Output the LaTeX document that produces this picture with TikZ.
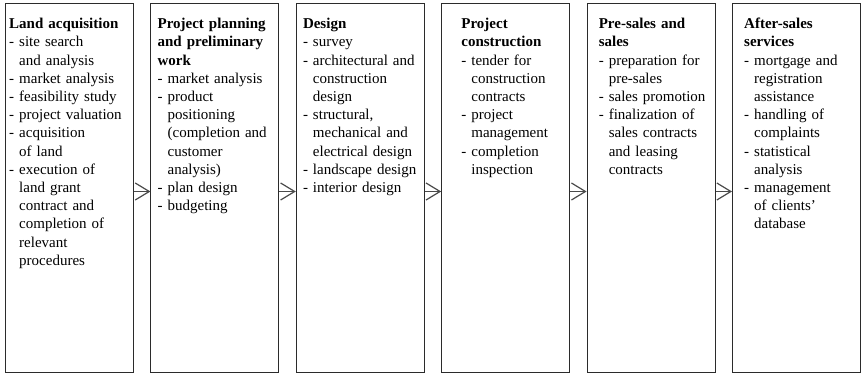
\documentclass[tikz,border=0pt]{standalone}
\usepackage{fontspec}
\setmainfont{Liberation Serif}
\usepackage{tikz}
\usetikzlibrary{arrows.meta, positioning}
\definecolor{boxdraw}{HTML}{2B2B2B}
\definecolor{arrdraw}{HTML}{4A4A4A}
% continuation lines of an item line up after the dash
\newcommand{\cont}{\hphantom{-\ }}
\tikzset{
  stage/.style={rectangle, draw=boxdraw, line width=1pt, minimum width=128pt, minimum height=369pt, inner sep=0pt},
  txt/.style={align=left, text width=124pt, inner sep=0pt, font=\fontsize{15}{18.2}\selectfont},
  arr/.style={-{Straight Barb[length=14pt, width=17pt]}, line width=1.2pt, draw=arrdraw},
}
\begin{document}
\begin{tikzpicture}[x=1pt, y=1pt, node distance=16.4pt]
  \useasboundingbox (0,0) rectangle (861,-374);
  % the six stages
  \node[stage, anchor=north west] (s1) at (5,-3) {};
  \node[stage, right=of s1] (s2) {};
  \node[stage, right=of s2] (s3) {};
  \node[stage, right=of s3] (s4) {};
  \node[stage, right=of s4] (s5) {};
  \node[stage, right=of s5] (s6) {};
  % stage contents
  \node[txt, below right=15pt and 4pt of s1.north west] (t1) {\textbf{Land acquisition}\\
- site search\\
\cont and analysis\\
- market analysis\\
- feasibility study\\
- project valuation\\
- acquisition\\
\cont of land\\
- execution of\\
\cont land grant\\
\cont contract and\\
\cont completion of\\
\cont relevant\\
\cont procedures};
  \node[txt, below right=15pt and 7pt of s2.north west] (t2) {\textbf{Project planning}\\
\textbf{and preliminary}\\
\textbf{work}\\
- market analysis\\
- product\\
\cont positioning\\
\cont (completion and\\
\cont customer\\
\cont analysis)\\
- plan design\\
- budgeting};
  \node[txt, below right=15pt and 7pt of s3.north west] (t3) {\textbf{Design}\\
- survey\\
- architectural and\\
\cont construction\\
\cont design\\
- structural,\\
\cont mechanical and\\
\cont electrical design\\
- landscape design\\
- interior design};
  \node[txt, below right=15pt and 20pt of s4.north west] (t4) {\textbf{Project}\\
\textbf{construction}\\
- tender for\\
\cont construction\\
\cont contracts\\
- project\\
\cont management\\
- completion\\
\cont inspection};
  \node[txt, below right=15pt and 12pt of s5.north west] (t5) {\textbf{Pre-sales and}\\
\textbf{sales}\\
- preparation for\\
\cont pre-sales\\
- sales promotion\\
- finalization of\\
\cont sales contracts\\
\cont and leasing\\
\cont contracts};
  \node[txt, below right=15pt and 12pt of s6.north west] (t6) {\textbf{After-sales}\\
\textbf{services}\\
- mortgage and\\
\cont registration\\
\cont assistance\\
- handling of\\
\cont complaints\\
- statistical\\
\cont analysis\\
- management\\
\cont of clients'\\
\cont database};
  % arrows between stages
  \foreach \a/\b in {s1/s2, s2/s3, s3/s4, s4/s5, s5/s6}
    \draw[arr] ([yshift=-3.5pt]\a.east) -- ([yshift=-3.5pt]\b.west);
\end{tikzpicture}
\end{document}
